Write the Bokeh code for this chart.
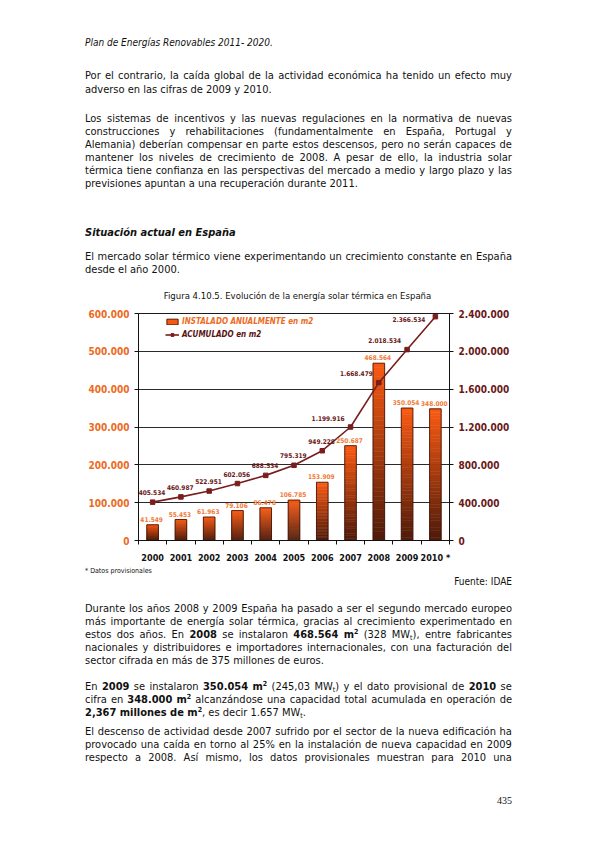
from bokeh.plotting import figure
from bokeh.models import (Range1d, LinearAxis, FixedTicker, CustomJSTickFormatter,
                          Legend, LegendItem, ColumnDataSource, Div, LabelSet, Label)
from bokeh.layouts import column
from bokeh.embed import file_html
from bokeh.resources import INLINE
from bokeh.core.properties import value

# ---------------- data ----------------
years = ["2000", "2001", "2002", "2003", "2004", "2005", "2006", "2007", "2008", "2009", "2010 *"]
instalado = [41549, 55453, 61963, 79106, 86478, 106785, 153909, 250687, 468564, 350054, 348000]
acumulado = [405534, 460987, 522951, 602056, 688534, 795319, 949228, 1199916, 1668479, 2018534, 2366534]
left_ticks = [0, 100000, 200000, 300000, 400000, 500000, 600000]
right_ticks = [0, 400000, 800000, 1200000, 1600000, 2000000, 2400000]
serie_instalado = "INSTALADO ANUALMENTE en m2"
serie_acumulado = "ACUMULADO en m2"

header = "Plan de Energías Renovables 2011- 2020."
p1 = ["Por el contrario, la caída global de la actividad económica ha tenido un efecto muy",
      "adverso en las cifras de 2009 y 2010."]
p2 = ["Los sistemas de incentivos y las nuevas regulaciones en la normativa de nuevas",
      "construcciones y rehabilitaciones (fundamentalmente en España, Portugal y",
      "Alemania) deberían compensar en parte estos descensos, pero no serán capaces de",
      "mantener los niveles de crecimiento de 2008. A pesar de ello, la industria solar",
      "térmica tiene confianza en las perspectivas del mercado a medio y largo plazo y las",
      "previsiones apuntan a una recuperación durante 2011."]
heading = "Situación actual en España"
p3 = ["El mercado solar térmico viene experimentando un crecimiento constante en España",
      "desde el año 2000."]
caption = "Figura 4.10.5. Evolución de la energía solar térmica en España"
nota = "* Datos provisionales"
fuente = "Fuente: IDAE"
p4 = ["Durante los años 2008 y 2009 España ha pasado a ser el segundo mercado europeo",
      "más importante de energía solar térmica, gracias al crecimiento experimentado en",
      "estos dos años. En <b>2008</b> se instalaron <b>468.564</b> <b>m<sup>2</sup></b> (328 MW<sub>t</sub>), entre fabricantes",
      "nacionales y distribuidores e importadores internacionales, con una facturación del",
      "sector cifrada en más de 375 millones de euros."]
p5 = ["En <b>2009</b> se instalaron <b>350.054</b> <b>m<sup>2</sup></b> (245,03 MW<sub>t</sub>) y el dato provisional de <b>2010</b> se",
      "cifra en <b>348.000</b> <b>m<sup>2</sup></b> alcanzándose una capacidad total acumulada en operación de",
      "<b>2,367 millones de m<sup>2</sup></b>, es decir 1.657 MW<sub>t</sub>."]
p6 = ["El descenso de actividad desde 2007 sufrido por el sector de la nueva edificación ha",
      "provocado una caída en torno al 25% en la instalación de nueva capacidad en 2009",
      "respecto a 2008. Así mismo, los datos provisionales muestran para 2010 una"]
page_no = "435"

# ---------------- styles ----------------
FONT = "DejaVu Sans Condensed"
CSS_FONT = "'DejaVu Sans Condensed','Liberation Sans',sans-serif"
ORANGE = "#EE6A22"
BAR_LBL = "#F27A38"
MAROON = "#6A1818"
LINE_C = "#7A1D1D"
TOP_RGB = (250, 90, 18)
BOT_RGB = (78, 26, 10)
N_SLICES = 40
SPLIT = 7


def fmt(v):
    return f"{v:,}".replace(",", ".")


xpos = [i + 0.5 for i in range(len(years))]

# ---------------- chart ----------------
p = figure(width=579, height=264, x_range=Range1d(0, len(years)), y_range=Range1d(0, 600000),
           output_backend="svg", toolbar_location=None,
           min_border_left=130, min_border_right=138, min_border_top=12, min_border_bottom=24,
           margin=0)
p.extra_y_ranges = {"acc": Range1d(0, 2400000)}
p.outline_line_color = "#1a1a1a"
p.outline_line_width = 1
p.xgrid.visible = False
p.ygrid.ticker = FixedTicker(ticks=left_ticks)
p.ygrid.grid_line_color = "#2a2a2a"
p.ygrid.grid_line_width = 1

num_fmt = CustomJSTickFormatter(code="return tick.toFixed(0).replace(/\\B(?=(\\d{3})+(?!\\d))/g, '.');")

# bottom axis: labels at category centres, ticks at category boundaries
xa = p.xaxis[0]
xa.ticker = FixedTicker(ticks=xpos, minor_ticks=list(range(len(years) + 1)))
xa.formatter = CustomJSTickFormatter(args=dict(labels=years), code="return labels[Math.floor(tick)];")
xa.major_tick_out = 0
xa.major_tick_in = 0
xa.minor_tick_out = 4
xa.minor_tick_in = 0
xa.minor_tick_line_color = "#111111"
xa.axis_line_color = "#111111"
xa.major_label_standoff = 8
xa.major_label_text_font = FONT
xa.major_label_text_font_style = "bold"
xa.major_label_text_font_size = "9px"
xa.major_label_text_color = "#111111"

ya = p.yaxis[0]
ya.ticker = FixedTicker(ticks=left_ticks)
ya.formatter = num_fmt
ya.major_tick_out = 4
ya.major_tick_in = 0
ya.minor_tick_line_color = None
ya.axis_line_color = "#111111"
ya.major_tick_line_color = "#111111"
ya.major_label_standoff = 5
ya.major_label_text_font = FONT
ya.major_label_text_font_style = "bold"
ya.major_label_text_font_size = "10px"
ya.major_label_text_color = ORANGE

ra = LinearAxis(y_range_name="acc", ticker=FixedTicker(ticks=right_ticks), formatter=num_fmt)
ra.major_tick_out = 4
ra.major_tick_in = 0
ra.minor_tick_line_color = None
ra.axis_line_color = "#111111"
ra.major_tick_line_color = "#111111"
ra.major_label_standoff = 5
ra.major_label_text_font = FONT
ra.major_label_text_font_style = "bold"
ra.major_label_text_font_size = "10px"
ra.major_label_text_color = MAROON
p.add_layout(ra, "right")

# gradient bars: each bar split into slices of its own value
sx, sb, st, sc = [], [], [], []
for xi, v in zip(xpos, instalado):
    for k in range(N_SLICES - 1, -1, -1):
        t = (k + 0.5) / N_SLICES
        sx.append(xi)
        sb.append(v * k / N_SLICES)
        st.append(v * (k + 1) / N_SLICES)
        c = tuple(int(round(b + (a - b) * t)) for a, b in zip(TOP_RGB, BOT_RGB))
        sc.append("#%02x%02x%02x" % c)
slices = ColumnDataSource(dict(x=sx, bottom=sb, top=st, c=sc))
bars_r = p.vbar(x="x", bottom="bottom", top="top", width=0.41, source=slices,
                fill_color="c", line_color="c", line_width=0.5)
outline_r = p.vbar(x=xpos, top=instalado, width=0.41, fill_color=None,
                   line_color="#3a1006", line_width=0.8)

line_r = p.line(xpos, acumulado, y_range_name="acc", line_color=LINE_C, line_width=1.6)
pts_r = p.scatter(xpos, acumulado, y_range_name="acc", marker="square", size=4.5,
                  fill_color=LINE_C, line_color=LINE_C)

# value labels on bars
bar_src = ColumnDataSource(dict(x=xpos, y=instalado, t=[fmt(v) for v in instalado]))
p.add_layout(LabelSet(x="x", y="y", text="t", source=bar_src, text_align="center",
                      text_baseline="bottom", x_offset=-1, y_offset=3,
                      text_font=value(FONT), text_font_size="6.5px", text_font_style="bold",
                      text_color=BAR_LBL))

# value labels on the cumulative line: above on the flat part, to the left on the steep part
n = len(acumulado)
for i, (xi, v) in enumerate(zip(xpos, acumulado)):
    if i < SPLIT:
        kw = dict(text_align="left", text_baseline="bottom", x_offset=-14, y_offset=7)
    elif i < n - 1:
        kw = dict(text_align="right", text_baseline="middle", x_offset=-6, y_offset=9)
    else:
        kw = dict(text_align="right", text_baseline="middle", x_offset=-10, y_offset=-3)
    p.add_layout(Label(x=xi, y=v, y_range_name="acc", text=fmt(v),
                       text_font=FONT, text_font_size="6.5px", text_font_style="bold",
                       text_color=MAROON, **kw))


# legends (two, so each label keeps its series colour)
def mk_legend(item, loc, color):
    lg = Legend(items=[item], location=loc, orientation="vertical")
    lg.padding = 0
    lg.margin = 0
    lg.spacing = 0
    lg.glyph_width = 14
    lg.glyph_height = 7
    lg.label_height = 9
    lg.label_standoff = 3
    lg.border_line_color = None
    lg.background_fill_alpha = 0
    lg.label_text_font = FONT
    lg.label_text_font_size = "8px"
    lg.label_text_font_style = "bold italic"
    lg.label_text_color = color
    return lg


p.add_layout(mk_legend(LegendItem(label=serie_instalado, renderers=[bars_r, outline_r], index=0),
                       (27, 214), ORANGE))
p.add_layout(mk_legend(LegendItem(label=serie_acumulado, renderers=[line_r, pts_r]),
                       (27, 201), "#5A1212"))

# ---------------- page text ----------------
LEFT = 77
TEXTW = 427
LH = 13


def jline(y0, y, html, size=11, justify=True):
    top = y - y0 - LH / 2
    base = (f"position:absolute;left:{LEFT}px;top:{top}px;width:{TEXTW}px;height:{LH}px;"
            f"line-height:{LH}px;font-size:{size}px;white-space:nowrap;")
    if justify:
        words = [w for w in html.split(" ") if w]
        inner = "".join(f"<span>{w}</span>" for w in words)
        return f'<div style="{base}display:flex;justify-content:space-between;">{inner}</div>'
    return f'<div style="{base}">{html}</div>'


def para(y0, ys, lines, last_justified=False):
    out = []
    for i, (y, ln) in enumerate(zip(ys, lines)):
        j = (i < len(lines) - 1) or last_justified
        out.append(jline(y0, y, ln, justify=j))
    return "".join(out)


SUP = "<style>sup{font-size:7px;vertical-align:4px;line-height:0}sub{font-size:7px;vertical-align:-2px;line-height:0}</style>"

# positions below are page coordinates; the layout sits inside an 8px margin
Y0 = 8
top_html = SUP + f'<div style="position:relative;width:579px;height:293px;font-family:{CSS_FONT};color:#111;">'
top_html += (f'<div style="position:absolute;left:{LEFT}px;top:{42 - Y0 - 6.5}px;line-height:13px;'
             f'font-size:10px;font-style:italic;white-space:nowrap;">{header}</div>')
top_html += para(Y0, [75, 89], p1)
top_html += para(Y0, [118, 131, 144, 157, 170, 183], p2)
top_html += (f'<div style="position:absolute;left:{LEFT}px;top:{232 - Y0 - 6.5}px;line-height:13px;'
             f'font-size:11px;font-style:italic;font-weight:bold;white-space:nowrap;">{heading}</div>')
top_html += para(Y0, [256, 269], p3)
top_html += (f'<div style="position:absolute;left:0px;top:{295 - Y0 - 6.5}px;width:579px;line-height:13px;'
             f'font-size:9.5px;text-align:center;white-space:nowrap;">{caption}</div>')
top_html += "</div>"

Y1 = 565
bot_html = SUP + f'<div style="position:relative;width:579px;height:269px;font-family:{CSS_FONT};color:#111;">'
bot_html += (f'<div style="position:absolute;left:{LEFT}px;top:{571 - Y1 - 5}px;line-height:10px;'
             f'font-size:7px;white-space:nowrap;">{nota}</div>')
bot_html += (f'<div style="position:absolute;left:0px;top:{581 - Y1 - 6.5}px;width:{LEFT + TEXTW}px;'
             f'line-height:13px;font-size:10px;text-align:right;white-space:nowrap;">{fuente}</div>')
bot_html += para(Y1, [608, 621, 634, 647, 660], p4)
bot_html += para(Y1, [686, 699, 712], p5)
bot_html += para(Y1, [731, 744, 757], p6, last_justified=True)
bot_html += (f'<div style="position:absolute;left:0px;top:{800 - Y1 - 6.5}px;width:{LEFT + TEXTW}px;'
             f"line-height:13px;font-size:10px;text-align:right;font-family:'Liberation Serif',serif;\">{page_no}</div>")
bot_html += "</div>"

top_div = Div(text=top_html, width=579, height=293, margin=0)
bot_div = Div(text=bot_html, width=579, height=269, margin=0)

layout = column(top_div, p, bot_div, margin=(8, 8, 8, 8), spacing=0)

with open("out.html", "w") as f:
    f.write(file_html(layout, INLINE))
